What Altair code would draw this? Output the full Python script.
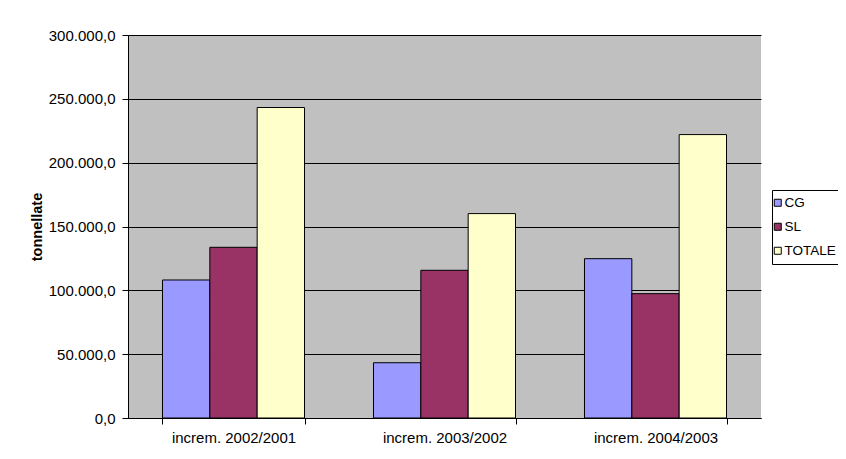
import altair as alt
import pandas as pd

categories = ["increm. 2002/2001", "increm. 2003/2002", "increm. 2004/2003"]
series = ["CG", "SL", "TOTALE"]
cg = [108100, 43300, 124800]
sl = [133700, 115700, 97400]
totale = [243200, 160100, 222000]
colors = ["#9999FF", "#993366", "#FFFFCC"]
y_ticks = [0, 50000, 100000, 150000, 200000, 250000, 300000]

rows = []
for name, vals in zip(series, [cg, sl, totale]):
    for c, v in zip(categories, vals):
        rows.append({"cat": c, "serie": name, "val": v})
df = pd.DataFrame(rows)

FONT = "Liberation Sans"

chart = alt.Chart(df).mark_bar(stroke="black", strokeWidth=1).encode(
    x=alt.X("cat:N", sort=categories, title=None,
            scale=alt.Scale(paddingInner=0.327, paddingOuter=0.1635),
            axis=alt.Axis(labelAngle=0, tickBand="extent", tickSize=6, labelPadding=6,
                          domainColor="black", tickColor="black", labelFontSize=15,
                          labelColor="black", grid=False)),
    xOffset=alt.XOffset("serie:N", sort=series, scale=alt.Scale(paddingInner=0, paddingOuter=0)),
    y=alt.Y("val:Q", title="tonnellate",
            scale=alt.Scale(domain=[0, 300000], nice=False),
            axis=alt.Axis(values=y_ticks, format=",.1f", tickSize=6, labelPadding=7,
                          domainColor="black", tickColor="black", gridColor="black",
                          gridOpacity=1, labelFontSize=15, labelColor="black",
                          titleFontSize=14.5, titleFontWeight="bold", titleColor="black",
                          titlePadding=4)),
    color=alt.Color("serie:N", sort=series,
                    scale=alt.Scale(domain=series, range=colors),
                    legend=alt.Legend(title=None, orient="none", legendX=644, legendY=155,
                                      symbolType="square", symbolSize=49,
                                      symbolStrokeColor="black", symbolStrokeWidth=1,
                                      symbolOffset=-7,
                                      labelFontSize=13.5, labelColor="black",
                                      rowPadding=9, padding=6, labelOffset=0,
                                      strokeColor="black", fillColor="white")),
).properties(
    width=633, height=383,
    autosize=alt.AutoSizeParams(type="none"),
    padding={"left": 120, "top": 27, "right": 77, "bottom": 28},
    background="white",
).configure(
    locale={"number": {"decimal": ",", "thousands": ".", "grouping": [3], "currency": ["", " €"]}},
    font=FONT,
).configure_view(
    fill="#C0C0C0", stroke=None,
)

chart.save("out.html", embed_options={"renderer": "svg", "actions": False})
